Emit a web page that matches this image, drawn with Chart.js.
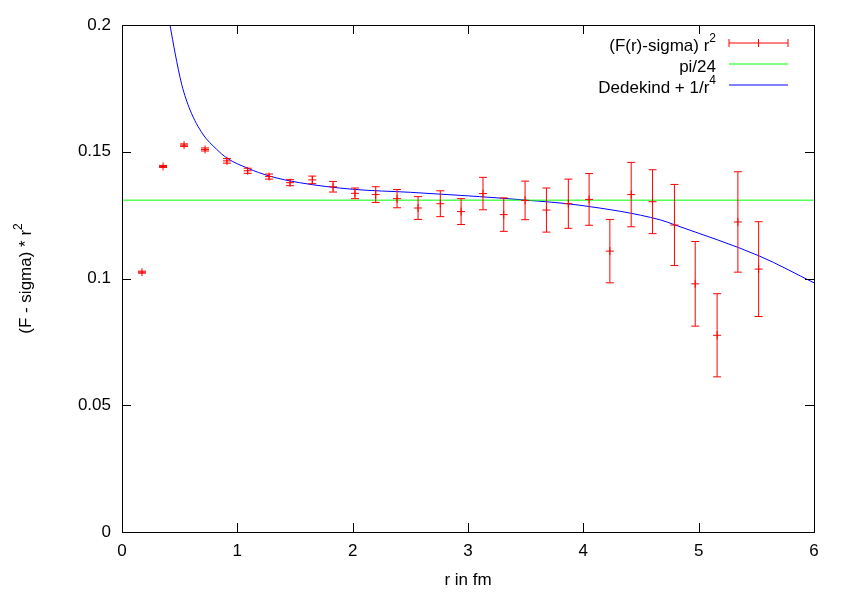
<!DOCTYPE html>
<html>
<head>
<meta charset="utf-8">
<script src="https://cdn.jsdelivr.net/npm/chart.js@4/dist/chart.umd.min.js"></script>
<style>
    body { margin: 0; background: #fff; }
</style>
</head>
<body>
<canvas id="force-chart" width="850" height="595"></canvas>
<script>
// measured points (F(r)-sigma) r^2 with half error bars
const rValues = [0.173, 0.356, 0.538, 0.72, 0.91, 1.09, 1.275, 1.457, 1.65, 1.83, 2.02, 2.2, 2.385, 2.567, 2.76,
    2.94, 3.13, 3.31, 3.495, 3.68, 3.87, 4.05, 4.23, 4.415, 4.6, 4.79, 4.97, 5.16, 5.34, 5.52];
const forceValues = [0.1025, 0.1442, 0.1526, 0.1509, 0.1464, 0.1425, 0.1402, 0.1378, 0.1389, 0.1362, 0.1336, 0.1331,
    0.1315, 0.1278, 0.1295, 0.1264, 0.1335, 0.1252, 0.1308, 0.127, 0.1295, 0.1312, 0.1108, 0.1331, 0.1303, 0.1211,
    0.0979, 0.0776, 0.1223, 0.1037];
const forceErrors = [0.0004, 0.0004, 0.0005, 0.0006, 0.0009, 0.001, 0.001, 0.0012, 0.0015, 0.0021, 0.0021, 0.0031,
    0.0036, 0.0045, 0.0051, 0.0051, 0.0064, 0.0066, 0.0076, 0.0087, 0.0097, 0.0102, 0.0125, 0.0127, 0.0126, 0.016,
    0.0167, 0.0164, 0.0198, 0.0187];

// pi/24 line
const piLineR = [0, 6];
const piLineValues = [0.1309, 0.1309];

// Dedekind + 1/r^4 curve
const curveR = [0.416, 0.46, 0.518, 0.59, 0.70, 0.82, 0.91, 1.09, 1.28, 1.54, 2.0, 2.5, 2.93, 3.1, 3.48, 3.97,
    4.67, 4.79, 5.53, 6.0];
const curveValues = [0.2, 0.189, 0.1765, 0.1665, 0.157, 0.151, 0.1475, 0.1435, 0.1404, 0.1378, 0.1352, 0.134, 0.1328,
    0.1323, 0.131, 0.1289, 0.1231, 0.1212, 0.1088, 0.0983];

const xTicks = [0, 1, 2, 3, 4, 5, 6];
const yTicks = [0, 0.05, 0.1, 0.15, 0.2];

const legendLabels = [['(F(r)-sigma) r', '2'], ['pi/24', ''], ['Dedekind + 1/r', '4']];

const RED = '#ff0000';
const GREEN = '#00ff00';
const BLUE = '#0000ff';
const FONT = '"Liberation Sans", Arial, sans-serif';

function toPoints(xs, ys) {
    const pts = [];
    for (let i = 0; i < xs.length; i++) {
        pts.push({ x: xs[i], y: ys[i] });
    }
    return pts;
}

function textWithSup(ctx, main, sup, right, y) {
    ctx.textAlign = 'right';
    ctx.textBaseline = 'middle';
    let supW = 0;
    if (sup) {
        ctx.font = '12px ' + FONT;
        supW = ctx.measureText(sup).width;
        ctx.fillText(sup, right, y - 7);
    }
    ctx.font = '17px ' + FONT;
    ctx.fillText(main, right - supW, y);
}

const framePlugin = {
    id: 'frame',
    afterDatasetsDraw(chart) {
        const ctx = chart.ctx;
        const xs = chart.scales.x;
        const ys = chart.scales.y;
        const area = chart.chartArea;

        // error bars
        ctx.save();
        ctx.strokeStyle = RED;
        ctx.lineWidth = 1;
        for (let i = 0; i < rValues.length; i++) {
            const px = xs.getPixelForValue(rValues[i]);
            const top = ys.getPixelForValue(forceValues[i] + forceErrors[i]);
            const bot = ys.getPixelForValue(forceValues[i] - forceErrors[i]);
            ctx.beginPath();
            ctx.moveTo(px, top);
            ctx.lineTo(px, bot);
            ctx.moveTo(px - 4, top);
            ctx.lineTo(px + 4, top);
            ctx.moveTo(px - 4, bot);
            ctx.lineTo(px + 4, bot);
            ctx.stroke();
        }

        // box and inward ticks
        ctx.strokeStyle = '#000';
        ctx.strokeRect(area.left + 0.5, area.top + 0.5, area.right - area.left, area.bottom - area.top);
        ctx.beginPath();
        xTicks.forEach(v => {
            const px = Math.round(xs.getPixelForValue(v)) + 0.5;
            ctx.moveTo(px, area.bottom);
            ctx.lineTo(px, area.bottom - 9);
            ctx.moveTo(px, area.top);
            ctx.lineTo(px, area.top + 9);
        });
        yTicks.forEach(v => {
            const py = Math.round(ys.getPixelForValue(v)) + 0.5;
            ctx.moveTo(area.left, py);
            ctx.lineTo(area.left + 9, py);
            ctx.moveTo(area.right, py);
            ctx.lineTo(area.right - 9, py);
        });
        ctx.stroke();

        // axis titles
        ctx.fillStyle = '#000';
        ctx.font = '17px ' + FONT;
        ctx.textAlign = 'center';
        ctx.textBaseline = 'middle';
        ctx.fillText('r in fm', (area.left + area.right) / 2, 580);

        ctx.save();
        ctx.translate(26, (area.top + area.bottom) / 2);
        ctx.rotate(-Math.PI / 2);
        ctx.font = '12px ' + FONT;
        const supW = ctx.measureText('2').width;
        ctx.font = '17px ' + FONT;
        const mainW = ctx.measureText('(F - sigma) * r').width;
        textWithSup(ctx, '(F - sigma) * r', '2', (mainW + supW) / 2, 0);
        ctx.restore();

        // legend
        const rowY = [43, 64, 85];
        const colors = [RED, GREEN, BLUE];
        for (let i = 0; i < legendLabels.length; i++) {
            ctx.fillStyle = '#000';
            textWithSup(ctx, legendLabels[i][0], legendLabels[i][1], 716, rowY[i] + 3);
            ctx.strokeStyle = colors[i];
            ctx.beginPath();
            ctx.moveTo(729, rowY[i]);
            ctx.lineTo(788, rowY[i]);
            if (i === 0) {
                [729, 758.5, 788].forEach(lx => {
                    ctx.moveTo(lx, rowY[i] - 4);
                    ctx.lineTo(lx, rowY[i] + 4);
                });
            }
            ctx.stroke();
        }
        ctx.restore();
    }
};

const ctx = document.getElementById('force-chart').getContext('2d');

new Chart(ctx, {
    type: 'scatter',
    data: {
        datasets: [{
            label: '(F(r)-sigma) r^2',
            data: toPoints(rValues, forceValues),
            pointStyle: 'cross',
            pointRadius: 4,
            borderColor: RED,
            backgroundColor: RED,
            borderWidth: 1,
            showLine: false,
        }, {
            label: 'pi/24',
            data: toPoints(piLineR, piLineValues),
            showLine: true,
            pointRadius: 0,
            borderColor: GREEN,
            borderWidth: 1,
        }, {
            label: 'Dedekind + 1/r^4',
            data: toPoints(curveR, curveValues),
            showLine: true,
            pointRadius: 0,
            borderColor: BLUE,
            borderWidth: 1,
            cubicInterpolationMode: 'monotone',
        }]
    },
    options: {
        responsive: false,
        animation: false,
        layout: {
            padding: { top: 25, right: 36, left: 0, bottom: 0 }
        },
        scales: {
            x: {
                type: 'linear',
                min: 0,
                max: 6,
                afterFit: scale => { scale.height = 63; },
                afterBuildTicks: scale => { scale.ticks = xTicks.map(v => ({ value: v })); },
                grid: { display: false, drawTicks: false },
                border: { display: false },
                ticks: {
                    color: '#000',
                    padding: 9,
                    font: { family: FONT, size: 17 },
                    maxRotation: 0
                }
            },
            y: {
                type: 'linear',
                min: 0,
                max: 0.2,
                afterFit: scale => { scale.width = 122; },
                afterBuildTicks: scale => { scale.ticks = yTicks.map(v => ({ value: v })); },
                grid: { display: false, drawTicks: false },
                border: { display: false },
                ticks: {
                    color: '#000',
                    padding: 11,
                    font: { family: FONT, size: 17 },
                    callback: v => String(+v.toFixed(2))
                }
            }
        },
        plugins: {
            legend: { display: false },
            tooltip: { enabled: false }
        }
    },
    plugins: [framePlugin]
});
</script>
</body>
</html>
